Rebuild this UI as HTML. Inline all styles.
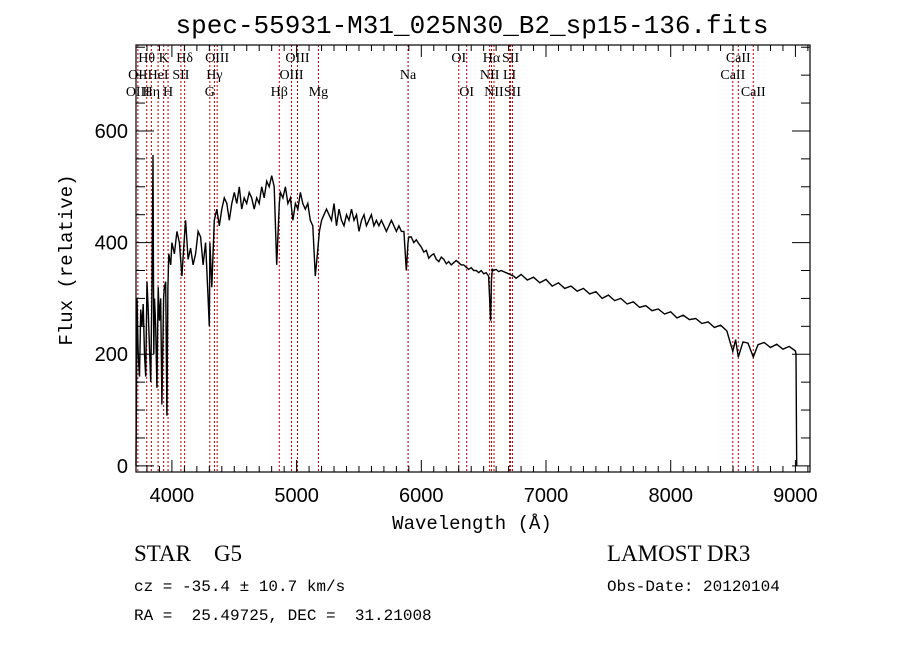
<!DOCTYPE html>
<html><head><meta charset="utf-8"><style>
body{margin:0;background:#fff;}
svg{display:block;}
text{white-space:pre;}
</style></head><body>
<svg id="chart" width="900" height="649" xmlns="http://www.w3.org/2000/svg" xml:space="preserve">
<rect width="900" height="649" fill="#fff"/>
<text x="472" y="33" text-anchor="middle" font-family="Liberation Mono, monospace" font-size="26">spec-55931-M31_025N30_B2_sp15-136.fits</text>
<g id="lines"></g>
<g id="spec"></g>
<g id="axes"></g>
<text x="472" y="529" text-anchor="middle" font-family="Liberation Mono, monospace" font-size="19">Wavelength (Å)</text>
<text transform="translate(72,260) rotate(-90)" text-anchor="middle" font-family="Liberation Mono, monospace" font-size="19">Flux (relative)</text>
<text x="134" y="561" font-family="Liberation Serif, serif" font-size="23">STAR    G5</text>
<text x="134" y="591" font-family="Liberation Mono, monospace" font-size="16">cz = -35.4 ± 10.7 km/s</text>
<text x="134" y="620" font-family="Liberation Mono, monospace" font-size="16">RA =  25.49725, DEC =  31.21008</text>
<text x="607" y="561" font-family="Liberation Serif, serif" font-size="23">LAMOST DR3</text>
<text x="607" y="591" font-family="Liberation Mono, monospace" font-size="16">Obs-Date: 20120104</text>
</svg>
<script>
const wavelengths=[3712,3715,3720,3730,3740,3750,3760,3770,3780,3790,3800,3810,3820,3830,3840,3848,3855,3860,3870,3880,3890,3900,3910,3920,3933,3940,3950,3960,3968,3975,3990,4000,4020,4040,4060,4080,4100,4110,4130,4150,4170,4190,4210,4230,4250,4270,4290,4300,4305,4320,4340,4360,4380,4400,4420,4440,4460,4480,4500,4520,4540,4560,4580,4600,4620,4640,4660,4680,4700,4720,4740,4760,4780,4800,4820,4840,4861,4870,4890,4910,4930,4950,4970,4990,5010,5030,5050,5070,5090,5110,5130,5150,5167,5183,5200,5220,5240,5260,5280,5300,5320,5340,5360,5380,5400,5420,5440,5460,5480,5500,5520,5540,5560,5580,5600,5620,5640,5660,5680,5700,5720,5740,5760,5780,5800,5820,5840,5860,5880,5893,5900,5920,5940,5960,5980,6000,6020,6040,6060,6080,6100,6120,6140,6160,6180,6200,6220,6240,6260,6280,6300,6320,6340,6360,6380,6400,6420,6440,6460,6480,6500,6520,6540,6556,6563,6570,6580,6600,6620,6640,6660,6680,6700,6720,6740,6760,
6800,6850,6900,6950,7000,7050,7100,7150,7200,7250,7300,7350,7400,7450,7500,7550,7600,7650,7700,7750,7800,7850,7900,7950,8000,8050,8100,8150,8200,8250,8300,8350,8400,8450,
8498,8520,8542,8580,8620,8662,8700,8750,8800,8850,8900,8950,9000,9005,9010];
const fluxes=[0,120,300,200,160,280,250,290,200,160,330,280,210,150,320,557,200,300,250,140,320,260,300,110,300,320,330,90,320,380,360,400,380,420,400,340,410,440,370,390,360,380,420,410,360,400,300,250,400,320,440,460,430,460,480,470,440,470,490,470,500,460,480,470,490,480,460,480,470,500,480,510,500,520,500,360,470,490,480,500,470,480,440,470,460,490,470,460,470,440,430,340,380,420,440,450,460,450,440,470,430,460,440,430,450,440,460,440,450,420,440,450,430,440,450,430,440,430,440,430,420,430,440,430,420,430,420,420,350,400,410,410,400,405,398,392,383,386,372,377,380,370,366,374,370,362,366,360,364,368,364,360,360,356,352,355,350,350,346,350,344,346,340,260,335,352,350,352,348,350,348,346,344,342,340,336,
343,333,338,328,334,322,328,318,322,313,318,308,312,300,306,296,300,290,294,284,287,278,281,272,276,265,270,262,264,255,258,248,252,242,
205,226,195,222,220,195,217,221,212,218,209,214,206,200,0];
const lineWaves=[3727,3798,3835,3889,3934,3969,4072,4102,4304,4341,4363,4861,4959,5007,5175,5894,6300,6364,6548,6563,6583,6708,6716,6731,8498,8542,8662];
const labelTexts=["Hθ","K","Hδ","OIII","OIII","OI","Hα","SII","CaII","OII","HeI","SII","Hγ","OIII","Na","NII","LI","CaII","OIII","Hη","H","G","Hβ","Mg","OI","NII","SII","CaII"];
const labelWaves=[3798,3934,4102,4363,5007,6300,6563,6716,8542,3727,3889,4072,4341,4959,5894,6548,6708,8498,3727,3835,3969,4304,4861,5175,6364,6583,6731,8662];
const labelRows=[0,0,0,0,0,0,0,0,0,1,1,1,1,1,1,1,1,1,2,2,2,2,2,2,2,2,2,2];
const xTicks=[4000,5000,6000,7000,8000,9000];
const yTicks=[0,200,400,600];

const L=136,R=810,T=45,B=472;
const XMIN=3712,XMAX=9117,YMIN=-11,YMAX=754;
function xs(v){return L+(v-XMIN)/(XMAX-XMIN)*(R-L);}
function ys(v){return B-(v-YMIN)/(YMAX-YMIN)*(B-T);}
const NS="http://www.w3.org/2000/svg";
function mk(t,a,p){const e=document.createElementNS(NS,t);for(const k in a)e.setAttribute(k,a[k]);p.appendChild(e);return e;}

const lg=document.getElementById('lines');
lineWaves.forEach(w=>{
  const l=mk('line',{x1:xs(w),x2:xs(w),y1:T,y2:B,stroke:'#b00000','stroke-width':1,'stroke-dasharray':'2,2'},lg);
  
  
});
const rowY=[62,79,96];
labelTexts.forEach((s,i)=>{
  const t=mk('text',{x:xs(labelWaves[i]),y:rowY[labelRows[i]],'text-anchor':'middle','font-family':'Liberation Serif, serif','font-size':14},lg);
  t.textContent=s;
  
  
});

const sg=document.getElementById('spec');
let d='';
const n=Math.min(wavelengths.length,fluxes.length);
for(let i=0;i<n;i++){d+=(i?'L':'M')+xs(wavelengths[i]).toFixed(1)+','+ys(fluxes[i]).toFixed(1);}
const p=mk('path',{d:d,fill:'none',stroke:'#000','stroke-width':1.4},sg);



const ax=document.getElementById('axes');
const fr=mk('rect',{x:L,y:T,width:R-L,height:B-T,fill:'none',stroke:'#000','stroke-width':1.2},ax);


for(let w=3800;w<=9100;w+=100){
  const maj=w%1000===0,len=maj?12:6,x=xs(w);
  mk('line',{x1:x,x2:x,y1:B,y2:B-len,stroke:'#000'},ax);
  mk('line',{x1:x,x2:x,y1:T,y2:T+len,stroke:'#000'},ax);
}
xTicks.forEach(v=>{
  const t=mk('text',{x:xs(v),y:B+30,'text-anchor':'middle','font-family':'Liberation Sans, sans-serif','font-size':20},ax);
  t.textContent=v;
  
  
});
for(let v=0;v<=750;v+=50){
  const maj=v%200===0,len=maj?18:9,y=ys(v);
  mk('line',{x1:L,x2:L+len,y1:y,y2:y,stroke:'#000'},ax);
  mk('line',{x1:R,x2:R-len,y1:y,y2:y,stroke:'#000'},ax);
}
yTicks.forEach(v=>{
  const t=mk('text',{x:L-8,y:ys(v)+7,'text-anchor':'end','font-family':'Liberation Sans, sans-serif','font-size':20},ax);
  t.textContent=v;
  
  
});
</script>
</body></html>
